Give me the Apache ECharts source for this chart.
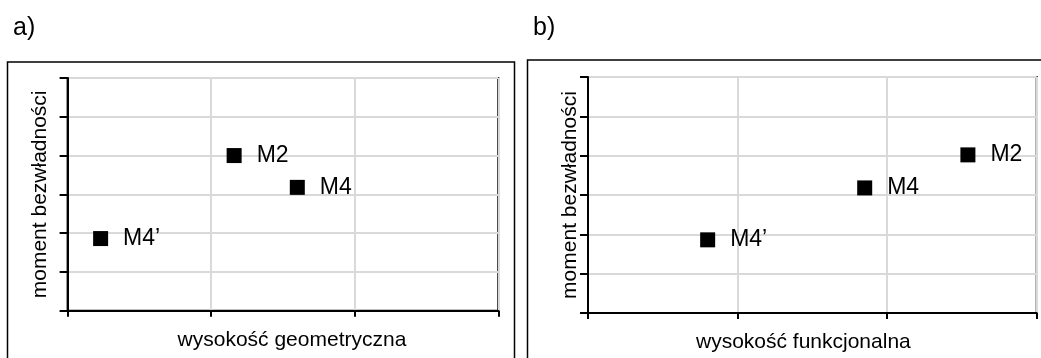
<!DOCTYPE html>
<html>
<head>
<meta charset="utf-8">
<script src="https://cdn.jsdelivr.net/npm/echarts@6/dist/echarts.min.js"></script>
<style>
  html, body { margin: 0; padding: 0; background: #fff; }
  #chart { width: 1041px; height: 358px; }
</style>
</head>
<body>
<div id="chart"></div>
<script>
// punkty wspólne dla obu wykresów
const pointNames = ['M2', 'M4', 'M4’']
// a) wysokość geometryczna
const heightGeom = [1.16, 1.60, 0.23]
const momentA = [4.0, 3.18, 1.86]
// b) wysokość funkcjonalna
const heightFunc = [2.54, 1.85, 0.80]
const momentB = [4.02, 3.18, 1.86]

const panelLabels = ['a)', 'b)']
const xNames = ['wysokość geometryczna', 'wysokość funkcjonalna']
const yName = 'moment bezwładności'

const font = 'Liberation Sans, Arial, sans-serif'

function toData(xs, ys) {
  return xs.map((x, i) => ({ name: pointNames[i], value: [x, ys[i]] }))
}

function xAxis(gridIndex, name, padding) {
  return {
    gridIndex,
    type: 'value',
    min: 0,
    max: 3,
    interval: 1,
    name,
    nameLocation: 'middle',
    nameGap: 19,
    nameTextStyle: { color: '#000', fontSize: 21, fontFamily: font, padding },
    axisLine: { show: true, onZero: false, lineStyle: { color: '#000', width: 2 } },
    axisTick: { show: true, inside: false, length: 6, lineStyle: { color: '#000', width: 2 } },
    axisLabel: { show: false },
    splitLine: { show: true, lineStyle: { color: '#d9d9d9', width: 2 } }
  }
}

function yAxis(gridIndex, gap) {
  return {
    gridIndex,
    type: 'value',
    min: 0,
    max: 6,
    interval: 1,
    name: yName,
    nameLocation: 'middle',
    nameRotate: 90,
    nameGap: gap,
    nameTextStyle: { color: '#000', fontSize: 21, fontFamily: font },
    axisLine: { show: true, onZero: false, lineStyle: { color: '#000', width: 2 } },
    axisTick: { show: true, inside: false, length: 8, lineStyle: { color: '#000', width: 2 } },
    axisLabel: { show: false },
    splitLine: { show: true, lineStyle: { color: '#d9d9d9', width: 2 } }
  }
}

function scatter(i, data) {
  return {
    type: 'scatter',
    xAxisIndex: i,
    yAxisIndex: i,
    symbol: 'rect',
    symbolSize: 15,
    itemStyle: { color: '#000', opacity: 1 },
    label: {
      show: true,
      position: 'right',
      distance: 15,
      formatter: '{b}',
      color: '#000',
      fontSize: 23,
      fontFamily: font
    },
    emphasis: { disabled: true },
    data
  }
}

const chart = echarts.init(document.getElementById('chart'), null, { renderer: 'canvas' })

chart.setOption({
  animation: false,
  backgroundColor: '#fff',
  graphic: [
    { type: 'rect', shape: { x: 7.5, y: 62, width: 507, height: 320 }, style: { fill: 'none', stroke: '#000', lineWidth: 1.5 } },
    { type: 'rect', shape: { x: 527.5, y: 60, width: 530, height: 320 }, style: { fill: 'none', stroke: '#000', lineWidth: 1.5 } },
    { type: 'text', left: 13, top: 16, style: { text: panelLabels[0], fill: '#000', fontSize: 25, fontFamily: font } },
    { type: 'text', left: 533, top: 16, style: { text: panelLabels[1], fill: '#000', fontSize: 25, fontFamily: font } }
  ],
  grid: [
    { left: 67.6, top: 78, width: 430.7, height: 232.7, show: true, borderColor: '#000', borderWidth: 2, backgroundColor: 'transparent' },
    { left: 588, top: 77, width: 448.7, height: 242.3, show: true, borderColor: '#000', borderWidth: 2, backgroundColor: 'transparent' }
  ],
  xAxis: [
    xAxis(0, xNames[0], [0, 0, 0, 18]),
    xAxis(1, xNames[1], [0, 18, 0, 0])
  ],
  yAxis: [
    yAxis(0, 17),
    yAxis(1, 7)
  ],
  series: [
    scatter(0, toData(heightGeom, momentA)),
    scatter(1, toData(heightFunc, momentB))
  ]
})
</script>
</body>
</html>
